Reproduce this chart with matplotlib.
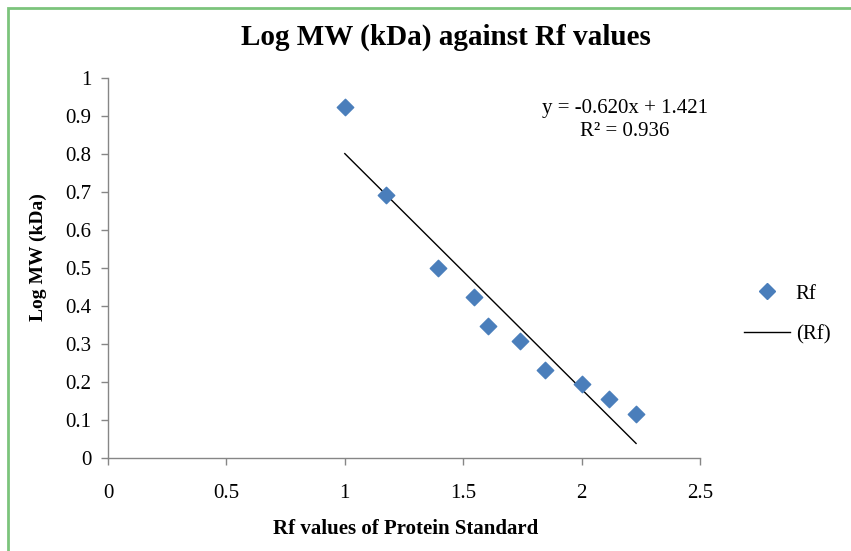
import numpy as np
import matplotlib.pyplot as plt
from matplotlib.patches import Rectangle
from matplotlib.lines import Line2D

# data
rf_values = [1.00, 1.175, 1.395, 1.545, 1.605, 1.74, 1.845, 2.00, 2.115, 2.23]
log_mw = [0.924, 0.692, 0.500, 0.424, 0.347, 0.308, 0.232, 0.195, 0.155, 0.116]
slope = -0.620
intercept = 1.421
r_squared = 0.936

x_ticks = [0, 0.5, 1, 1.5, 2, 2.5]
y_ticks = [0, 0.1, 0.2, 0.3, 0.4, 0.5, 0.6, 0.7, 0.8, 0.9, 1]

plt.rcParams['font.family'] = ['Liberation Serif', 'DejaVu Serif']
blue = '#4a7ebb'
axis_grey = '#868686'

fig = plt.figure(figsize=(8.51, 5.51), dpi=100)
fig.patch.set_facecolor('white')

# green frame (right and bottom edges fall outside the crop)
fig.patches.append(Rectangle((8 / 851, -0.05), 1.2, 1 - 8 / 551 + 0.05,
                             transform=fig.transFigure, fill=False,
                             edgecolor='#7cc47c', linewidth=2))

ax = fig.add_axes([108 / 851, 1 - 458 / 551, 592 / 851, 380 / 551])
ax.scatter(rf_values, log_mw, marker='D', s=70, color=blue, zorder=3, label='Rf')

xs = np.array([min(rf_values), max(rf_values)])
ax.plot(xs, slope * xs + intercept, color='black', linewidth=1.0, zorder=2)

ax.set_xlim(0, 2.5)
ax.set_ylim(0, 1)
ax.set_xticks(x_ticks)
ax.set_yticks(y_ticks)
ax.set_xticklabels([f'{t:g}' for t in x_ticks])
ax.set_yticklabels([f'{t:g}' for t in y_ticks])
ax.tick_params(axis='both', labelsize=15, color=axis_grey, length=5, width=1)
ax.tick_params(axis='x', pad=14)
ax.tick_params(axis='y', pad=7)
for side in ['top', 'right']:
    ax.spines[side].set_visible(False)
for side in ['left', 'bottom']:
    ax.spines[side].set_color(axis_grey)
    ax.spines[side].set_linewidth(1)

ax.set_xlabel('Rf values of Protein Standard', fontsize=15, fontweight='bold')
ax.set_ylabel('Log MW (kDa)', fontsize=14, fontweight='bold')
ax.xaxis.set_label_coords((406 - 108) / 592, -(519 - 458) / 380)
ax.yaxis.set_label_coords(-(108 - 47) / 592, (458 - 257) / 380)

fig.text(446 / 851, 1 - 37 / 551, 'Log MW (kDa) against Rf values',
         ha='center', va='center', fontsize=21, fontweight='bold')

ax.text((625 - 108) / 592, (458 - 120) / 380,
        f'y = {slope:.3f}x + {intercept:.3f}\nR² = {r_squared:.3f}',
        transform=ax.transAxes, ha='center', va='center', fontsize=15,
        linespacing=1.3)

handles = [Line2D([], [], marker='D', linestyle='none', color=blue, markersize=8),
           Line2D([], [], color='black', linewidth=1.0)]
fig.legend(handles, ['Rf', '(Rf)'], loc='center left',
           bbox_to_anchor=(725 / 851, 1 - 314 / 551), frameon=False,
           fontsize=15, handlelength=2.2, handletextpad=0.3, labelspacing=1.0)

fig.savefig('out.png', dpi=100)
